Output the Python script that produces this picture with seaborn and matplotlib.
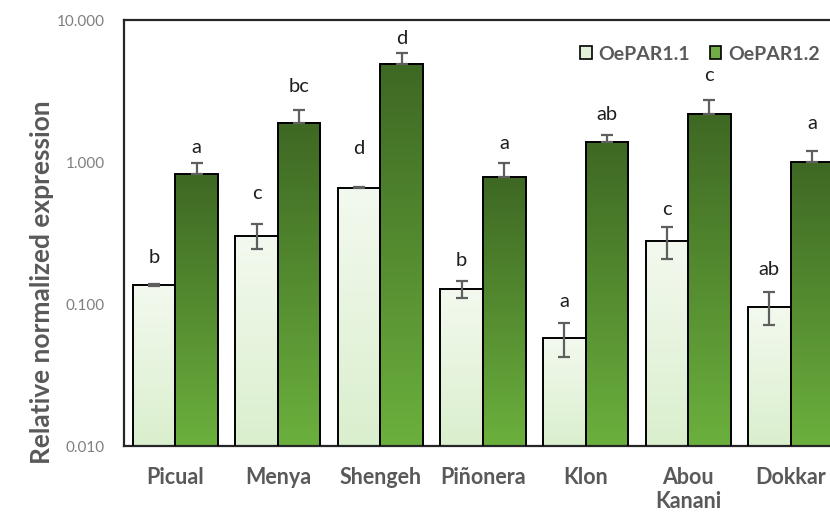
import numpy as np
import pandas as pd
import matplotlib
matplotlib.use("Agg")
import matplotlib.pyplot as plt
from matplotlib.colors import LinearSegmentedColormap
from matplotlib.patches import Patch
import seaborn as sns

# Expression data per cultivar (mean and standard error)
cultivars = ["Picual", "Menya", "Shengeh", "Piñonera", "Klon", "Abou\nKanani", "Dokkar"]
genes = ["OePAR1.1", "OePAR1.2"]
par11_mean = [0.136, 0.303, 0.659, 0.128, 0.058, 0.278, 0.096]
par11_err = [0.003, 0.060, 0.008, 0.017, 0.016, 0.070, 0.025]
par12_mean = [0.823, 1.89, 4.90, 0.783, 1.38, 2.18, 0.995]
par12_err = [0.165, 0.43, 1.00, 0.20, 0.17, 0.55, 0.20]
par11_letters = ["b", "c", "d", "b", "a", "c", "ab"]
par12_letters = ["a", "bc", "d", "a", "ab", "c", "a"]
y_ticks = [0.01, 0.1, 1, 10]
y_tick_labels = ["0.010", "0.100", "1.000", "10.000"]

df = pd.DataFrame({
    "cultivar": cultivars * 2,
    "gene": [genes[0]] * len(cultivars) + [genes[1]] * len(cultivars),
    "expr": par11_mean + par12_mean,
})

sns.set_theme(style="white")
plt.rcParams["font.family"] = ["Lato", "DejaVu Sans"]

fig = plt.figure(figsize=(8.3, 5.15), dpi=100)
ax = fig.add_axes([124 / 830, 69 / 515, 718 / 830, 426 / 515])

sns.barplot(data=df, x="cultivar", y="expr", hue="gene", order=cultivars,
            hue_order=genes, width=0.83, errorbar=None, legend=False,
            palette=["#E2F0D9", "#70AD47"], ax=ax)
ax.set_yscale("log")
ax.set_ylim(0.01, 10)
ax.set_xlim(-0.5, 6.5)

# vertical gradients for each series (bottom colour -> top colour)
grads = [
    LinearSegmentedColormap.from_list("g11", ["#DAEFCD", "#F3F9EF"]),
    LinearSegmentedColormap.from_list("g12", ["#6BB03D", "#3E6823"]),
]
grad_img = np.linspace(0, 1, 256).reshape(-1, 1)
to_axes = ax.transAxes.inverted()
lift_11 = [26, 31, 38, 21, 21, 18, 23]
lift_12 = [15, 24, 14, 20, 20, 25, 28]
means = [par11_mean, par12_mean]
errs = [par11_err, par12_err]
letters = [par11_letters, par12_letters]
lifts = [lift_11, lift_12]

bars = [p for p in ax.patches if isinstance(p, matplotlib.patches.Rectangle)
        and 0 < p.get_width() < 1]
for bar in bars:
    x0 = bar.get_x()
    w = bar.get_width()
    xc = x0 + w / 2
    bi = int(round(xc))
    gi = 0 if xc < bi else 1
    v = means[gi][bi]
    (ax0, ay0) = to_axes.transform(ax.transData.transform((x0, 0.01)))
    (ax1, ay1) = to_axes.transform(ax.transData.transform((x0 + w, v)))
    ax.imshow(grad_img, cmap=grads[gi], origin="lower", aspect="auto",
              extent=[ax0, ax1, ay0, ay1], transform=ax.transAxes,
              zorder=2, interpolation="bilinear")
    bar.set_facecolor("none")
    bar.set_edgecolor("black")
    bar.set_linewidth(1.4)
    bar.set_zorder(3)
    e = errs[gi][bi]
    lower = e if gi == 0 else 0
    ax.errorbar(xc, v, yerr=[[lower], [e]], fmt="none", ecolor="#5F5F5F",
                elinewidth=1.6, capsize=4, capthick=1.6, zorder=4)
    ax.annotate(letters[gi][bi], (xc, v + e), xytext=(0, lifts[gi][bi]),
                textcoords="offset pixels", ha="center", va="center",
                fontsize=14.5, color="#1F1F1F", zorder=5)

ax.set_xlim(-0.5, 6.5)
ax.set_ylim(0.01, 10)
ax.set_yticks(y_ticks)
ax.set_yticklabels(y_tick_labels)
ax.yaxis.set_minor_locator(matplotlib.ticker.NullLocator())
ax.tick_params(axis="y", labelsize=11, labelcolor="#7F7F7F", length=0, pad=14)
ax.tick_params(axis="x", labelsize=15.5, labelcolor="#595959", length=0, pad=15)
for lbl in ax.get_xticklabels():
    lbl.set_fontweight("bold")
    lbl.set_linespacing(1.2)
ax.set_xlabel("")
ax.set_ylabel("Relative normalized expression", fontsize=19, fontweight="bold",
              color="#595959")
ax.yaxis.set_label_coords(-0.097, 0.385)
for sp in ax.spines.values():
    sp.set_visible(True)
    sp.set_color("#262626")
    sp.set_linewidth(1.6)

handles = [Patch(facecolor="#E2F0D9", edgecolor="black", linewidth=1.2),
           Patch(facecolor="#70AD47", edgecolor="black", linewidth=1.2)]
fig.legend(handles, genes, loc="center", bbox_to_anchor=(700 / 830, 1 - 54 / 515),
           ncol=2, frameon=False, handlelength=0.6, handleheight=0.6,
           handletextpad=0.35, columnspacing=1.0,
           prop={"size": 14, "weight": "bold"}, labelcolor="#595959")

fig.savefig("out.png", dpi=100)
